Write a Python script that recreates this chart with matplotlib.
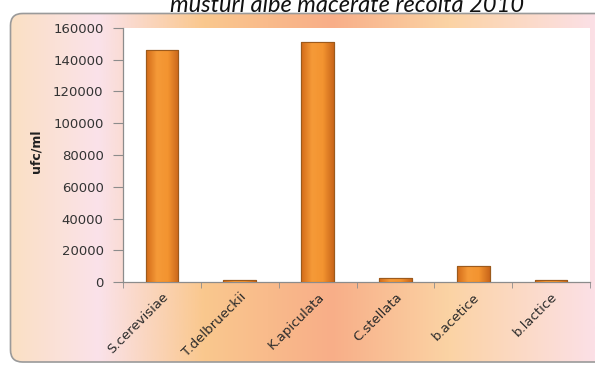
import numpy as np
import matplotlib
matplotlib.use("Agg")
import matplotlib.pyplot as plt
from matplotlib.patches import FancyBboxPatch
from matplotlib.colors import LinearSegmentedColormap

# Data
categories = ["S.cerevisiae", "T.delbrueckii", "K.apiculata", "C.stellata", "b.acetice", "b.lactice"]
counts = [146000, 1500, 151000, 2500, 10000, 1500]
yticks = [0, 20000, 40000, 60000, 80000, 100000, 120000, 140000, 160000]

title = "musturi albe macerate recolta 2010"
ylabel = "ufc/ml"

W, H = 595, 365
fig = plt.figure(figsize=(W / 100, H / 100), dpi=100)
fig.patch.set_facecolor("white")

# Background panel with a soft horizontal gradient
bg = fig.add_axes([0, 0, 1, 1])
bg.set_xlim(0, W)
bg.set_ylim(H, 0)
bg.axis("off")
bg_cmap = LinearSegmentedColormap.from_list(
    "panel",
    [(0.00, "#FBE0C4"), (0.15, "#FAE2EA"), (0.33, "#FAC88E"),
     (0.55, "#F8AE88"), (0.75, "#FBD3A4"), (1.00, "#FCE0E6")])
grad = np.linspace(0, 1, 256)[None, :]
frame = FancyBboxPatch((10.5, 13.5), 600, 348.5, boxstyle="round,pad=0,rounding_size=12",
                       facecolor="none", edgecolor="#9A9A9A", linewidth=1.2, zorder=3)
bg.add_patch(frame)
img = bg.imshow(grad, cmap=bg_cmap, extent=(10, 595, 362, 13), aspect="auto", zorder=1)
img.set_clip_path(frame)

# Title, partly clipped at the top edge
fig.text(347 / W, 1 - 12.5 / H, title, ha="center", va="baseline", fontsize=17,
         style="italic", family="Lato", color="#111111")

# Plot area
ax = fig.add_axes([123 / W, 1 - 282 / H, (590 - 123) / W, (282 - 28) / H])
ax.set_facecolor("white")
x = np.arange(len(categories))
bars = ax.bar(x, counts, width=0.42, color="#EE8C28", edgecolor="#9C5A1C", linewidth=0.8, zorder=3)

bar_cmap = LinearSegmentedColormap.from_list(
    "bar", ["#D26A18", "#F59A38", "#F39430", "#C9651A"])
for b in bars:
    bx, by = b.get_x(), b.get_y()
    bw, bh = b.get_width(), b.get_height()
    im = ax.imshow(grad, cmap=bar_cmap, extent=(bx, bx + bw, by, by + bh),
                   aspect="auto", zorder=3.5)
    im.set_clip_path(b)
    ax.bar(bx + bw / 2, bh, width=bw, facecolor="none", edgecolor="#9C5A1C",
           linewidth=0.8, zorder=4)

ax.set_xlim(-0.5, len(categories) - 0.5)
ax.set_ylim(0, 160000)
ax.set_yticks(yticks)
ax.set_yticklabels([str(v) for v in yticks])
ax.set_xticks(x)
ax.set_xticklabels(categories, rotation=45, ha="right", rotation_mode="anchor")
ax.set_xticks(np.arange(-0.5, len(categories)), minor=True)
ax.tick_params(axis="x", which="major", length=0, pad=6)
ax.tick_params(axis="x", which="minor", length=4, color="#8C8C8C", direction="out")
ax.tick_params(axis="y", length=7, color="#8C8C8C", direction="out", pad=7)
for lbl in ax.get_yticklabels():
    lbl.set_fontsize(9.5)
    lbl.set_color("#333333")
    lbl.set_family("DejaVu Sans")
for lbl in ax.get_xticklabels():
    lbl.set_fontsize(9.5)
    lbl.set_color("#2A2A2A")
    lbl.set_family("DejaVu Sans")

for side in ("top", "right"):
    ax.spines[side].set_visible(False)
for side in ("left", "bottom"):
    ax.spines[side].set_color("#8C8C8C")
    ax.spines[side].set_linewidth(0.9)

fig.text(36 / W, 1 - 151 / H, ylabel, rotation=90, ha="center", va="center",
         fontsize=9, fontweight="bold", family="DejaVu Sans", color="#202020")

fig.savefig("out.png", dpi=100)
